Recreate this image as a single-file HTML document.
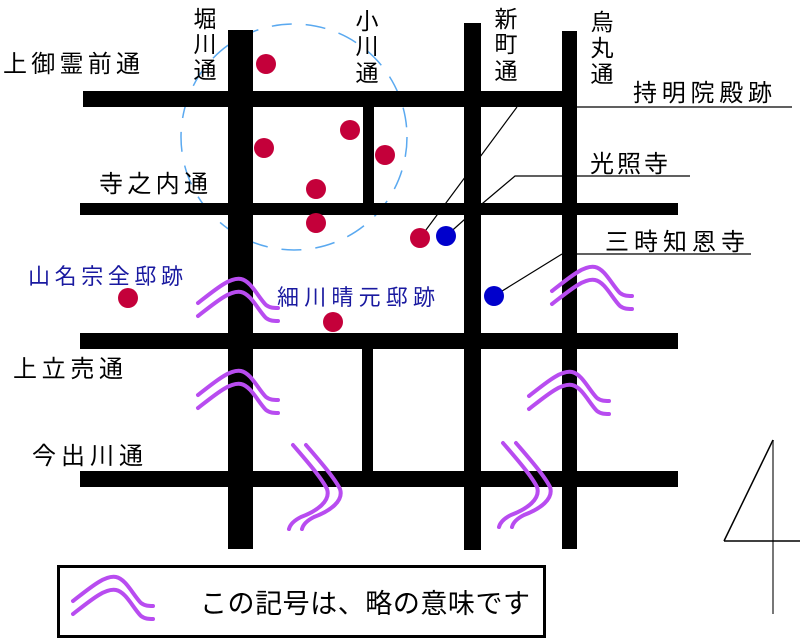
<!DOCTYPE html>
<html><head><meta charset="utf-8"><style>
html,body{margin:0;padding:0;background:#fff;}
svg{display:block;}
text{font-family:"Liberation Sans","Noto Sans CJK JP",sans-serif;}
</style></head><body>
<svg width="800" height="641" viewBox="0 0 800 641" xmlns="http://www.w3.org/2000/svg">
<defs>
<g id="wh" fill="none" stroke="#b84cf0" stroke-width="4" stroke-linecap="round">
<path d="M0,24 C18,10 32,-2 43,0 C53,2 60,18 68,26 C72,29 76,29 80,29"/>
<path d="M0,37 C18,23 32,11 43,13 C53,15 60,31 68,39 C72,42 76,42 80,42"/>
</g>
<g id="wv" fill="none" stroke="#b84cf0" stroke-width="4" stroke-linecap="round">
<path d="M0,0 C12,14 28,32 34,44 C38,56 24,66 8,72 C0,76 -3,80 -4,84"/>
<path d="M13,0 C25,14 41,32 47,44 C51,56 37,66 21,72 C13,76 10,80 9,84"/>
</g>
</defs>
<circle cx="294" cy="137" r="113" fill="none" stroke="#5aa9f0" stroke-width="1.5" stroke-dasharray="20,14"/>
<g fill="#000">
<rect x="83" y="91" width="494" height="16"/>
<rect x="80" y="203" width="598" height="12"/>
<rect x="80" y="333" width="598" height="16"/>
<rect x="80" y="471" width="598" height="16"/>
<rect x="228" y="30" width="25" height="519"/>
<rect x="363" y="107" width="11" height="96"/>
<rect x="362" y="349" width="11" height="122"/>
<rect x="464" y="23" width="17" height="527"/>
<rect x="562" y="31" width="15" height="518"/>
</g>
<g stroke="#000" stroke-width="1.2" fill="none">
<line x1="577" y1="107" x2="792" y2="107"/>
<polyline points="517,107 420,238"/>
<polyline points="690,176 515,176 483,203 446,236"/>
<line x1="562" y1="254" x2="751" y2="254"/>
<line x1="562" y1="254" x2="494" y2="296"/>
</g>
<g fill="#c4003a">
<circle cx="266" cy="64" r="10"/>
<circle cx="264" cy="148" r="10"/>
<circle cx="350" cy="130" r="10"/>
<circle cx="385" cy="155" r="10"/>
<circle cx="316" cy="189" r="10"/>
<circle cx="316" cy="223" r="10"/>
<circle cx="420" cy="238" r="10"/>
<circle cx="128" cy="298" r="10"/>
<circle cx="333" cy="322" r="10"/>
</g>
<g fill="#0000cc">
<circle cx="446" cy="236" r="10"/>
<circle cx="494" cy="296" r="10"/>
</g>
<use href="#wh" x="198" y="279"/>
<use href="#wh" x="198" y="371"/>
<use href="#wh" x="552" y="267"/>
<use href="#wh" x="529" y="372"/>
<use href="#wv" x="293" y="445"/>
<use href="#wv" x="503" y="443"/>
<g font-size="23" fill="#000">
<text x="205" y="27" text-anchor="middle">堀</text>
<text x="205" y="52" text-anchor="middle">川</text>
<text x="205" y="78" text-anchor="middle">通</text>
<text x="367" y="29" text-anchor="middle">小</text>
<text x="367" y="54" text-anchor="middle">川</text>
<text x="367" y="81" text-anchor="middle">通</text>
<text x="506" y="27" text-anchor="middle">新</text>
<text x="506" y="52" text-anchor="middle">町</text>
<text x="506" y="79" text-anchor="middle">通</text>
<text x="602" y="30" text-anchor="middle">烏</text>
<text x="602" y="56" text-anchor="middle">丸</text>
<text x="602" y="82" text-anchor="middle">通</text>
<text x="3" y="72" font-size="24" textLength="137" lengthAdjust="spacing">上御霊前通</text>
<text x="99" y="192" font-size="24" textLength="109" lengthAdjust="spacing">寺之内通</text>
<text x="13" y="377" font-size="24" textLength="110" lengthAdjust="spacing">上立売通</text>
<text x="32" y="464" font-size="24" textLength="111" lengthAdjust="spacing">今出川通</text>
<text x="633" y="101" font-size="24" textLength="139" lengthAdjust="spacing">持明院殿跡</text>
<text x="590" y="172" font-size="24" textLength="78" lengthAdjust="spacing">光照寺</text>
<text x="605" y="250" font-size="24" textLength="140" lengthAdjust="spacing">三時知恩寺</text>
</g>
<g font-size="22" fill="#1a1aa0">
<text x="28" y="284" textLength="155" lengthAdjust="spacing">山名宗全邸跡</text>
<text x="277" y="305" textLength="158" lengthAdjust="spacing">細川晴元邸跡</text>
</g>
<g stroke="#000" fill="none">
<line x1="773" y1="440" x2="773" y2="614" stroke="#777" stroke-width="2"/>
<line x1="773" y1="440" x2="724" y2="541" stroke-width="1.5"/>
<line x1="724" y1="541" x2="800" y2="541" stroke-width="1.5"/>
</g>
<rect x="58.5" y="566.5" width="486" height="70" fill="none" stroke="#000" stroke-width="3"/>
<use href="#wh" x="73" y="577"/>
<text x="200" y="613" font-size="27" fill="#000" textLength="330" lengthAdjust="spacing">この記号は、略の意味です</text>
</svg>
</body></html>
